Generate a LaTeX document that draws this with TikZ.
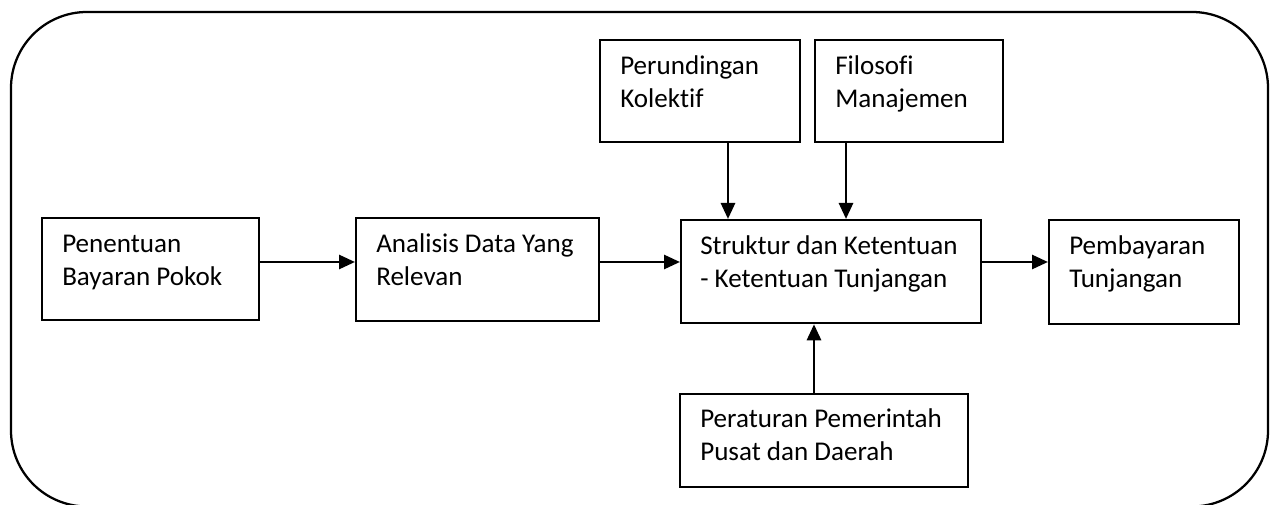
\documentclass[tikz,border=0pt]{standalone}
\usepackage{fontspec}
\setmainfont[RawFeature={-liga;-clig}]{Carlito}
\usetikzlibrary{arrows.meta}
% two left-aligned lines whose baseline is the first line
\newcommand\boxtext[2]{\begin{tabular}[t]{@{}l@{}}#1\\#2\end{tabular}}
\begin{document}
\begin{tikzpicture}[x=0.75pt,y=-0.75pt,
  frame/.style={draw, line width=1.7pt, rounded corners=57pt},
  stepbox/.style 2 args={draw, line width=1.7pt, rectangle, inner sep=0pt,
    anchor=north west, minimum width=#1*0.75pt, minimum height=#2*0.75pt},
  lbl/.style={anchor=base west, inner sep=0pt,
    font=\fontsize{20.3pt}{24.75pt}\selectfont},
  flow/.style={line width=2.1pt, -{Triangle[length=12pt,width=10.5pt]}}]

\useasboundingbox (0,0) rectangle (1275,505);
\clip (0,0) rectangle (1275,505);

% surrounding frame (its lower edge runs past the page)
\draw[frame] (11,12) rectangle (1268,506.5);

% boxes
\node[stepbox={217}{102}] (A) at (41,217) {};
\node[stepbox={243}{103}] (B) at (355,217) {};
\node[stepbox={300}{103}] (C) at (680,219) {};
\node[stepbox={190}{104}] (D) at (1048,219) {};
\node[stepbox={200}{102}] (E) at (599,39) {};
\node[stepbox={188}{102}] (F) at (814,39) {};
\node[stepbox={288}{93}]  (G) at (679,393) {};

% box texts
\node[lbl] (tA) at ([shift={(21,36)}]A.north west) {\boxtext{Penentuan}{Bayaran Pokok}};
\node[lbl] (tB) at ([shift={(21,36)}]B.north west) {\boxtext{Analisis Data Yang}{Relevan}};
\node[lbl] (tC) at ([shift={(20,36)}]C.north west) {\boxtext{Struktur dan Ketentuan}{- Ketentuan Tunjangan}};
\node[lbl] (tD) at ([shift={(21,36)}]D.north west) {\boxtext{Pembayaran}{Tunjangan}};
\node[lbl] (tE) at ([shift={(21,36)}]E.north west) {\boxtext{Perundingan}{Kolektif}};
\node[lbl] (tF) at ([shift={(21,36)}]F.north west) {\boxtext{Filosofi}{Manajemen}};
\node[lbl] (tG) at ([shift={(21,35)}]G.north west) {\boxtext{Peraturan Pemerintah}{Pusat dan Daerah}};

% guide lines for the connectors
\coordinate (row) at (0,262);
\coordinate (colE) at (728,0);
\coordinate (colF) at (846,0);
\coordinate (colG) at (814,0);

% connectors
\draw[flow] (A.east |- row) -- (B.west |- row);
\draw[flow] (B.east |- row) -- (C.west |- row);
\draw[flow] (C.east |- row) -- (D.west |- row);
\draw[flow] (E.south -| colE) -- (C.north -| colE);
\draw[flow] (F.south -| colF) -- (C.north -| colF);
\draw[flow] (G.north -| colG) -- (C.south -| colG);
\end{tikzpicture}
\end{document}
